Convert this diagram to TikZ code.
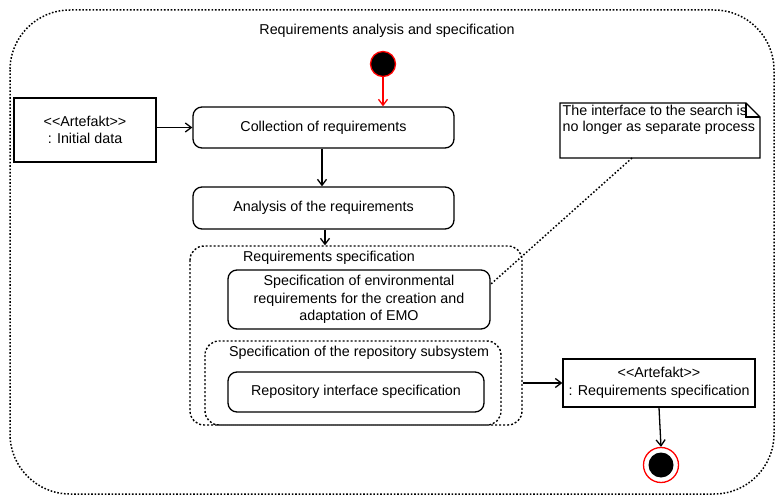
\documentclass[tikz,border=0pt]{standalone}
\usepackage{fontspec}
\setmainfont{Liberation Sans}[Ligatures=NoCommon]
\usetikzlibrary{arrows.meta,calc}
\begin{document}
\begin{tikzpicture}[x=1pt,y=-1pt,
  font=\fontsize{14.3}{17.5}\selectfont,
  line width=1.3pt,
  act/.style={draw,rounded corners=9pt,inner sep=0pt},
  artefact/.style={draw,inner sep=0pt},
  region/.style={draw,line width=1.4pt,dash pattern=on 2pt off 2pt,rounded corners=14pt},
  flow/.style={line width=1.3pt,-{Straight Barb[length=6pt,width=9pt]}},
  lbl/.style={inner sep=0pt,anchor=center}]
\useasboundingbox (0,0) rectangle (776,497);

% outer activity frame
\draw[line width=1.5pt,dash pattern=on 1.6pt off 1.8pt,rounded corners=60pt] (10,10) rectangle (774,494);
\node[lbl] (title) at (387,31) {Requirements analysis and specification};

% start node
\node[circle,fill=black,draw=red,line width=1.3pt,minimum size=25pt,inner sep=0pt] (start) at (383,64) {};

% activities
\node[act,minimum width=261pt,minimum height=41pt] (collect) at (323.5,127.5) {Collection of requirements};
\node[act,minimum width=261pt,minimum height=42pt] (analysis) at (323.5,208) {Analysis of the requirements};

% initial data artefact
\node[artefact,minimum width=142pt,minimum height=64pt,align=center] (init) at (85,130) {{<}{<}Artefakt{>}{>}\\: Initial data};

% requirements specification region
\draw[region] (190,246) rectangle (522,425);
\node (specR) at (356,335.5) [minimum width=332pt,minimum height=179pt,inner sep=0pt] {};
\node[lbl] (specL) at (329,258) {Requirements specification};
\node[act,minimum width=262pt,minimum height=59pt,align=center] (env) at (359,299.5)
  {Specification of environmental\\requirements for the creation and\\adaptation of EMO};

\draw[region] (205,341) rectangle (501,425);
\node[lbl] (repoL) at (359,353) {Specification of the repository subsystem};
\node[act,minimum width=256pt,minimum height=40pt] (repo) at (356,392) {Repository interface specification};

% note with folded corner
\draw (560,103) -- (746,103) -- (760,117) -- (760,158) -- (560,158) -- cycle;
\draw (746,103) -- (746,117) -- (760,117);
\node[inner sep=0pt,anchor=north west,align=left,font=\fontsize{14.3}{16.5}\selectfont] (note) at (562,104)
  {The interface to the search is\\no longer as separate process};
\coordinate (noteB) at (632,158);
\coordinate (envR) at (491,284);
\draw[line width=1.5pt,dash pattern=on 1.6pt off 2pt] (noteB) -- (envR);

% output artefact
\node[artefact,minimum width=192pt,minimum height=48pt,align=center] (out) at (659,383)
  {{<}{<}Artefakt{>}{>}\\: Requirements specification};

% final node
\node[circle,draw=red,line width=1.3pt,minimum size=35pt,inner sep=0pt] (final) at (661,465) {};
\node[circle,fill=black,minimum size=25pt,inner sep=0pt] (finalIn) at (661,465) {};

% flows
\draw[flow,red] (start) -- (start.south |- collect.north);
\draw[flow] (init.east |- collect) -- (collect.west);
\draw[flow] (collect.south -| 322,0) -- (analysis.north -| 322,0);
\draw[flow] (analysis.south -| 325,0) -- (specR.north -| 325,0);
\draw[flow] (specR.east |- out) -- (out.west);
\draw[flow] (out.south) -- (final.north);
\end{tikzpicture}
\end{document}
